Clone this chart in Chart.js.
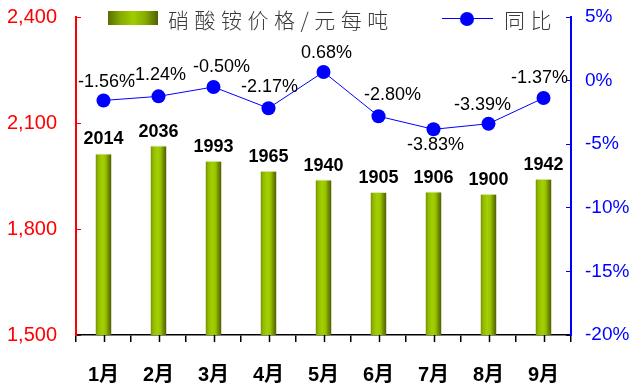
<!DOCTYPE html>
<html>
<head>
<meta charset="utf-8">
<script src="https://cdn.jsdelivr.net/npm/chart.js@4/dist/chart.umd.min.js"></script>
<style>
  html, body { margin: 0; padding: 0; background: #ffffff; }
  #wrap { position: relative; width: 637px; height: 388px; }
  #legend { position: absolute; left: 0; top: 0; width: 637px; height: 40px; pointer-events: none;
    font-family: "Noto Sans CJK SC", "Noto Sans", sans-serif; font-weight: 300; color: #3a3a3a; }
  .sw { position: absolute; left: 108px; top: 11px; width: 50px; height: 14px;
    background: linear-gradient(to right, #5a6e00 0%, #86ac00 25%, #a0cc00 50%, #86ac00 75%, #4f6000 100%); }
  .t1 { position: absolute; left: 168px; top: 6px; font-size: 21px; line-height: 26px; letter-spacing: 5.5px; white-space: nowrap; }
  .ln { position: absolute; left: 442px; top: 18px; width: 51px; height: 1px; background: #0000ff; }
  .dot { position: absolute; left: 460px; top: 12px; width: 14px; height: 14px; border-radius: 50%; background: #0000ff; }
  .t2 { position: absolute; left: 504px; top: 6px; font-size: 21px; line-height: 26px; letter-spacing: 5.5px; white-space: nowrap; }
</style>
</head>
<body>
<div id="wrap">
  <canvas id="c" width="637" height="388"></canvas>
  <div id="legend">
    <div class="sw"></div><div class="t1">硝酸铵价格/元每吨</div>
    <div class="ln"></div><div class="dot"></div><div class="t2">同比</div>
  </div>
</div>
<script>
const months = ['1月', '2月', '3月', '4月', '5月', '6月', '7月', '8月', '9月'];
const priceValues = [2014, 2036, 1993, 1965, 1940, 1905, 1906, 1900, 1942];
const yoyValues = [-1.56, -1.24, -0.50, -2.17, 0.68, -2.80, -3.83, -3.39, -1.37];
const priceTicks = [1500, 1800, 2100, 2400];
const yoyTicks = [-20, -15, -10, -5, 0, 5];

const BAR_PCT = 0.29;
const FONT = '"Liberation Sans", Arial, "Noto Sans CJK SC", sans-serif';
// label placement tweaks (style only): [dx, dy] relative to each point
const lineLabelShift = [[3, -18], [-1, -21], [8, -20], [1, -21], [3, -19], [14, -21], [2, 16], [-6, -19], [-4, -20]];

function barGradient(ctx) {
  const chart = ctx.chart;
  const xs = chart.scales && chart.scales.x;
  if (!xs || ctx.dataIndex === undefined || !chart.chartArea) return '#99cc00';
  const cx = xs.getPixelForValue(ctx.dataIndex);
  const w = (xs.width / months.length) * BAR_PCT;
  const g = chart.ctx.createLinearGradient(cx - w / 2, 0, cx + w / 2, 0);
  g.addColorStop(0, '#728f00');
  g.addColorStop(0.18, '#92bb00');
  g.addColorStop(0.42, '#a3d000');
  g.addColorStop(0.62, '#99c400');
  g.addColorStop(0.82, '#6f8a00');
  g.addColorStop(1, '#4c5a00');
  return g;
}

const labelPlugin = {
  id: 'valueLabels',
  afterDraw(chart) {
    const ctx = chart.ctx;
    const xs = chart.scales.x;
    ctx.save();
    ctx.strokeStyle = '#000000';
    ctx.lineWidth = 1.5;
    for (let i = 0; i < months.length; i++) {
      const x = Math.round(xs.getPixelForValue(i)) + 0.5;
      ctx.beginPath();
      ctx.moveTo(x, xs.top);
      ctx.lineTo(x, xs.top + 7);
      ctx.stroke();
    }
    ctx.restore();

    ctx.save();
    ctx.textAlign = 'center';
    ctx.textBaseline = 'middle';
    ctx.fillStyle = '#000000';
    const barMeta = chart.getDatasetMeta(0);
    ctx.font = 'bold 18px ' + FONT;
    barMeta.data.forEach((el, i) => {
      ctx.fillText(String(priceValues[i]), el.x, el.y - 14);
    });
    const lineMeta = chart.getDatasetMeta(1);
    ctx.font = '18px ' + FONT;
    lineMeta.data.forEach((el, i) => {
      const txt = yoyValues[i].toFixed(2) + '%';
      const s = lineLabelShift[i];
      ctx.fillText(txt, el.x + s[0], el.y + s[1]);
    });
    ctx.restore();
  }
};

new Chart(document.getElementById('c'), {
  data: {
    labels: months,
    datasets: [
      {
        type: 'bar',
        label: '硝酸铵价格/元每吨',
        data: priceValues,
        yAxisID: 'y',
        backgroundColor: barGradient,
        borderColor: '#dfe6c4',
        borderWidth: { top: 1, left: 0, right: 0, bottom: 0 },
        borderSkipped: 'bottom',
        categoryPercentage: 1,
        barPercentage: BAR_PCT,
        order: 2
      },
      {
        type: 'line',
        label: '同比',
        data: yoyValues,
        yAxisID: 'y1',
        borderColor: '#0000ff',
        borderWidth: 1,
        pointRadius: 7,
        pointBackgroundColor: '#0000ff',
        pointBorderWidth: 0,
        tension: 0,
        order: 1
      }
    ]
  },
  options: {
    responsive: false,
    animation: false,
    layout: { padding: { top: 17, right: 0, left: 0, bottom: 0 } },
    plugins: { legend: { display: false }, tooltip: { enabled: false } },
    scales: {
      x: {
        offset: true,
        grid: { offset: true, drawOnChartArea: false, color: '#000000', lineWidth: 1.5, tickLength: 7 },
        border: { color: '#000000', width: 1.5 },
        ticks: { color: '#000000', font: { family: FONT, size: 20, weight: 'bold' }, padding: 21, maxRotation: 0 },
        afterFit(s) { s.height = 53; s.paddingLeft = 0; s.paddingRight = 0; }
      },
      y: {
        position: 'left',
        min: 1500, max: 2400,
        afterBuildTicks(s) { s.ticks = priceTicks.map(v => ({ value: v })); },
        grid: { drawOnChartArea: false, color: '#ff0000', lineWidth: 1, tickLength: -5 },
        border: { color: '#ff0000', width: 2 },
        ticks: { color: '#ff0000', font: { family: FONT, size: 20 }, padding: 24,
          callback: v => v.toLocaleString('en-US') },
        afterFit(s) { s.width = 76; s.paddingTop = 0; s.paddingBottom = 0; }
      },
      y1: {
        position: 'right',
        min: -20, max: 5,
        afterBuildTicks(s) { s.ticks = yoyTicks.map(v => ({ value: v })); },
        grid: { drawOnChartArea: false, color: '#0000ff', lineWidth: 1, tickLength: -5 },
        border: { color: '#0000ff', width: 2 },
        ticks: { color: '#0000ff', font: { family: FONT, size: 19 }, padding: 19,
          callback: v => v + '%' },
        afterFit(s) { s.width = 66; s.paddingTop = 0; s.paddingBottom = 0; }
      }
    }
  },
  plugins: [labelPlugin]
});
</script>
</body>
</html>
